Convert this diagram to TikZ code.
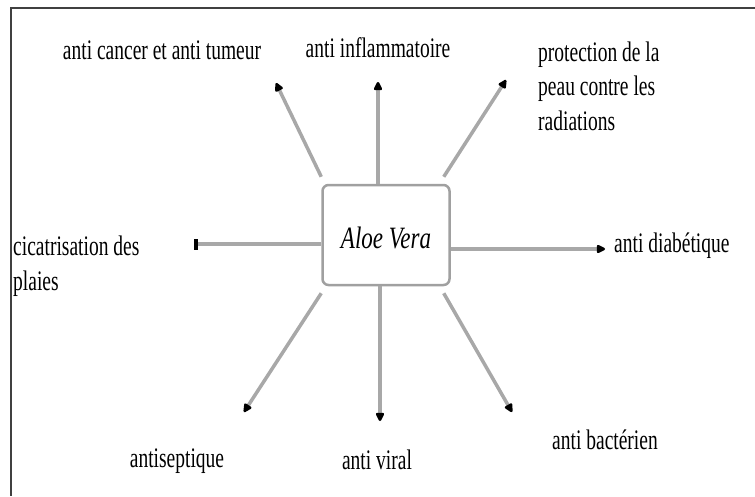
\documentclass[tikz,border=0pt]{standalone}
\usepackage{fontspec}
\setmainfont{Liberation Serif}
\usetikzlibrary{arrows.meta}
\definecolor{linegray}{HTML}{A8A8A8}
\definecolor{boxgray}{HTML}{A0A0A0}
\newcommand\talltext[1]{\scalebox{1}[1.45]{#1}}
\newcommand\tallblock[1]{\scalebox{1}[1.45]{\begin{tabular}{@{}l@{}}#1\end{tabular}}}
\tikzset{
  conn/.style={draw=linegray, line width=3.5pt, -{Triangle[length=10pt,width=9pt,color=black,fill=black,round]}},
  connbar/.style={draw=linegray, line width=3.5pt, -{Rectangle[length=4pt,width=11pt,color=black,fill=black]}},
  lbl/.style={font=\fontsize{19.5}{24}\selectfont, inner sep=0pt},
  lbll/.style={lbl, anchor=west},
  mainbox/.style={draw=boxgray, line width=2.5pt, rounded corners=6pt, minimum width=127pt, minimum height=100pt, fill=white, font=\fontsize{23}{26}\selectfont\itshape, text height=30pt, text depth=4pt}
}
\begin{document}
\begin{tikzpicture}[x=1pt,y=-1pt]
\useasboundingbox (0,0) rectangle (755,496);
\draw[line width=2pt, draw=black!75] (755,8) -- (11,8) -- (11,496);
\node[mainbox] (av) at (386,235) {\scalebox{1}[1.35]{Aloe Vera}};
\coordinate (eN) at (378,82);
\coordinate (eNW) at (276,83);
\coordinate (eNE) at (506,80);
\coordinate (eW) at (194,244);
\coordinate (eE) at (605,249);
\coordinate (eS) at (380,421);
\coordinate (eSW) at (244,412);
\coordinate (eSE) at (512,412);
\coordinate (sNW) at ([yshift=7pt]av.north west);
\coordinate (sNE) at ([xshift=-7pt,yshift=7pt]av.north east);
\coordinate (sSW) at ([yshift=-7pt]av.south west);
\coordinate (sSE) at ([xshift=-7pt,yshift=-7pt]av.south east);
\draw[conn] (av.north -| eN) -- (eN);
\draw[conn] (sNW) -- (eNW);
\draw[conn] (sNE) -- (eNE);
\draw[connbar] (av.west |- eW) -- (eW);
\draw[conn] (av.east |- eE) -- (eE);
\draw[conn] (av.south -| eS) -- (eS);
\draw[conn] (sSW) -- (eSW);
\draw[conn] (sSE) -- (eSE);
\node[lbl] (t1) at (162,50) {\talltext{anti cancer et anti tumeur}};
\node[lbl] (t2) at (378,48) {\talltext{anti inflammatoire}};
\node[lbll] (t3) at (538,89) {\tallblock{protection de la\\peau contre les\\radiations}};
\node[lbll] (t4) at (13,266) {\tallblock{cicatrisation des\\plaies}};
\node[lbll] (t5) at (614,246) {\talltext{anti diabétique}};
\node[lbl] (t6) at (177,461) {\talltext{antiseptique}};
\node[lbl] (t7) at (377,460) {\talltext{anti viral}};
\node[lbl] (t8) at (605,440) {\talltext{anti bactérien}};
\end{tikzpicture}
\end{document}
